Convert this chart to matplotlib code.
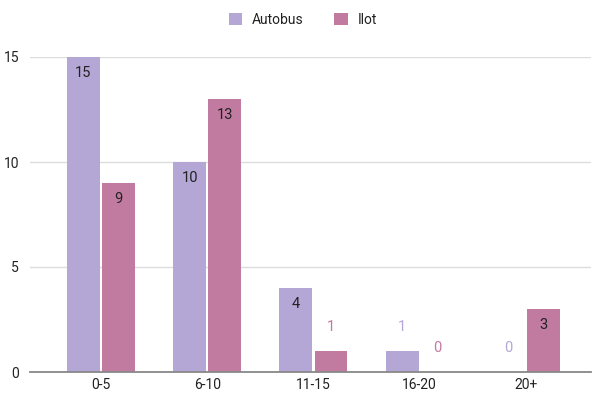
import matplotlib
matplotlib.use("Agg")
import matplotlib.pyplot as plt
import numpy as np

categories = ["0-5", "6-10", "11-15", "16-20", "20+"]
autobus = [15, 10, 4, 1, 0]
ilot = [9, 13, 1, 0, 3]
series_names = ["Autobus", "Ilot"]
y_ticks = [0, 5, 10, 15]

plt.rcParams["font.family"] = ["Roboto", "DejaVu Sans"]

col_a = "#b4a7d6"
col_i = "#c27ba0"

fig = plt.figure(figsize=(5.92, 3.94), dpi=100)
ax = fig.add_axes([30 / 592, 1 - 372 / 394, 561 / 592, 315 / 394])

x = np.arange(len(categories))
w = 0.31
off = 0.165

bars_a = ax.bar(x - off, autobus, w, color=col_a, zorder=3, label=series_names[0])
bars_i = ax.bar(x + off, ilot, w, color=col_i, zorder=3, label=series_names[1])

ax.set_xlim(-0.668, 4.612)
ax.set_ylim(0, 15)

def label_bars(bars, values, color):
    for b, v in zip(bars, values):
        cx = b.get_x() + b.get_width() / 2
        if v >= 2:
            ax.annotate(str(v), (cx, v), xytext=(0, -16 * 0.72), textcoords="offset points",
                        ha="center", va="center", fontsize=10.5, color="#222222", zorder=4)
        else:
            ax.annotate(str(v), (cx, v), xytext=(0, 24 * 0.72), textcoords="offset points",
                        ha="center", va="center", fontsize=10.5, color=color, zorder=4)

label_bars(bars_a, autobus, col_a)
label_bars(bars_i, ilot, col_i)

ax.set_yticks(y_ticks)
ax.set_xticks(x)
ax.set_xticklabels(categories)
ax.tick_params(axis="both", length=0, labelsize=10, colors="#222222")
ax.tick_params(axis="y", pad=8)
ax.tick_params(axis="x", pad=4)
ax.grid(axis="y", color="#dddddd", linewidth=1, zorder=0)
for s in ["top", "right", "left"]:
    ax.spines[s].set_visible(False)
ax.spines["bottom"].set_color("#888888")
ax.spines["bottom"].set_linewidth(1.3)
ax.spines["bottom"].set_zorder(5)

fig.legend(handles=[bars_a, bars_i], labels=series_names, loc="center",
           bbox_to_anchor=(303 / 592, 1 - 20 / 394), ncol=2, frameon=False,
           fontsize=10, handlelength=1.0, handleheight=1.0, columnspacing=2.2,
           handletextpad=0.7, labelcolor="#222222")

fig.savefig("out.png", dpi=100)
